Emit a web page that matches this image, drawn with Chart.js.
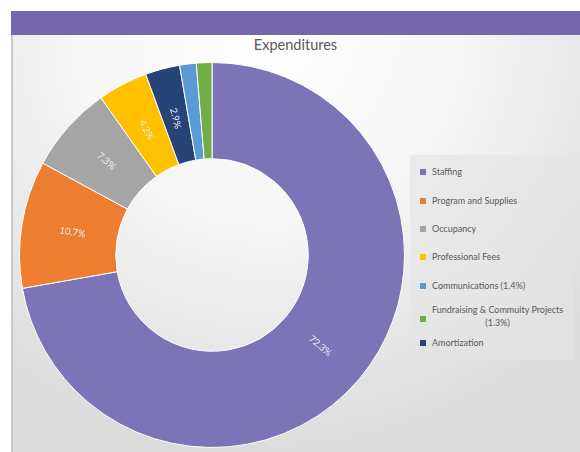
<!DOCTYPE html>
<html>
<head>
<meta charset="utf-8">
<script src="https://cdn.jsdelivr.net/npm/chart.js@4.4.1/dist/chart.umd.min.js"></script>
<style>
  html,body{margin:0;padding:0;width:580px;height:452px;background:#fff;overflow:hidden;font-family:"Lato","Open Sans",sans-serif;}
  #panel{position:absolute;left:11px;top:11px;width:569px;height:441px;
    background:radial-gradient(ellipse 75% 95% at 45% 5%, #ffffff 0%, #f6f6f6 45%, #dcdcdc 100%);
    border-left:2px solid #c9c9c9;box-sizing:border-box;}
  #band{position:absolute;left:11px;top:11px;width:569px;height:24px;background:#7467ab;}
  #title{position:absolute;left:11px;width:569px;top:36px;text-align:center;font-size:14.5px;color:#595959;}
  #wrap{position:absolute;left:19px;top:62px;width:386px;height:386px;}
  #legend{position:absolute;left:410px;top:155px;width:165px;height:205px;background:rgba(228,228,228,0.6);}
  .li{position:absolute;left:10px;font-size:9px;color:#595959;white-space:nowrap;}
  .sw{position:absolute;left:0;width:6px;height:6px;}
  .tx{position:absolute;left:12px;text-align:center;}
</style>
</head>
<body>
<div id="panel"></div>
<div id="band"></div>
<div id="title">Expenditures</div>
<div id="wrap"><canvas id="c"></canvas></div>
<div id="legend"></div>
<script>
const categories = ["Staffing","Program and Supplies","Occupancy","Professional Fees","Amortization","Communications (1.4%)","Fundraising & Commuity Projects (1.3%)"];
const values = [72.3, 10.7, 7.3, 4.2, 2.9, 1.4, 1.3];
const dataLabels = ["72.3%","10.7%","7.3%","4.2%","2.9%","",""];
const colors = ["#7b74b7","#ed7d31","#a5a5a5","#ffc000","#264478","#5b9bd5","#70ad47"];
const legendOrder = [0,1,2,3,5,6,4];
const legendLines = [["Staffing"],["Program and Supplies"],["Occupancy"],["Professional Fees"],["Amortization"],["Communications (1.4%)"],["Fundraising & Commuity Projects","(1.3%)"]];

const labelPlugin = {
  id:'rotLabels',
  afterDatasetsDraw(chart){
    const ctx = chart.ctx;
    const meta = chart.getDatasetMeta(0);
    meta.data.forEach((arc,i)=>{
      const t = dataLabels[i];
      if(!t) return;
      const p = arc.getProps(['x','y','startAngle','endAngle','innerRadius','outerRadius'],true);
      const mid = (p.startAngle+p.endAngle)/2;
      const r = (p.innerRadius+p.outerRadius)/2 - 3;
      const x = p.x + Math.cos(mid)*r, y = p.y + Math.sin(mid)*r;
      let rot = mid;
      while(rot > Math.PI/2) rot -= Math.PI;
      while(rot < -Math.PI/2) rot += Math.PI;
      ctx.save();
      ctx.translate(x,y);
      ctx.rotate(rot);
      ctx.font = '9.5px Lato, "Open Sans", sans-serif';
      ctx.fillStyle = '#f2f2f2';
      ctx.textAlign='center';ctx.textBaseline='middle';
      ctx.fillText(t,0,0);
      ctx.restore();
    });
  }
};

new Chart(document.getElementById('c'),{
  type:'doughnut',
  data:{labels:categories,datasets:[{data:values,backgroundColor:colors,borderColor:'#ffffff',borderWidth:1}]},
  options:{
    responsive:true,maintainAspectRatio:false,animation:false,cutout:'50%',
    layout:{padding:0},
    plugins:{legend:{display:false},tooltip:{enabled:false}}
  },
  plugins:[labelPlugin]
});

const lg = document.getElementById('legend');
const tops = [14,43,71,99,128,151,185];
legendOrder.forEach((idx,k)=>{
  const d = document.createElement('div');
  d.className='li';
  const lines = legendLines[idx];
  d.style.top = tops[k]+'px';
  const sw = document.createElement('div');
  sw.className='sw'; sw.style.background=colors[idx];
  sw.style.top = (lines.length>1? 10 : 0)+'px';
  const tx = document.createElement('div');
  tx.className='tx';
  tx.style.top='-3px';
  tx.style.lineHeight = (lines.length>1?'13px':'12px');
  tx.innerHTML = lines.map(s=>s.replace(/&/g,'&amp;')).join('<br>');
  d.appendChild(sw); d.appendChild(tx);
  lg.appendChild(d);
});
</script>
</body>
</html>
